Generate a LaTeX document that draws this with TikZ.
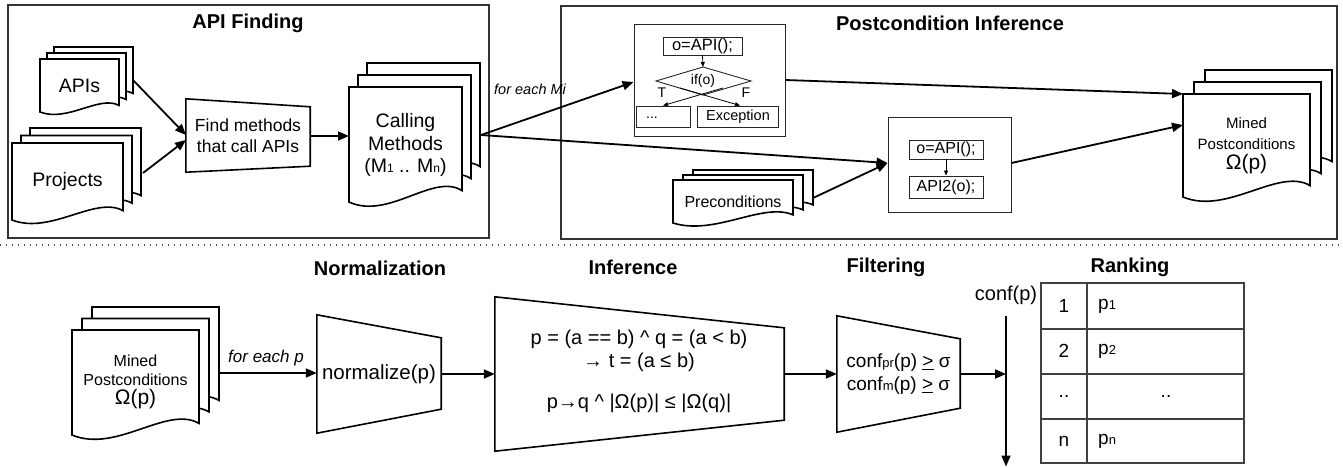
\documentclass[tikz,border=0pt]{standalone}
\usepackage{fontspec}
\setmainfont{Liberation Sans}
\usetikzlibrary{arrows.meta,calc}
\newcommand\docpath[4]{%
  \filldraw[shp] ({#1},{#2}) -- ({#1+#3},{#2}) -- ({#1+#3},{#2+#4-0.05*#3-0.05*#4})
    .. controls ({#1+0.75*#3},{#2+#4-0.13*#3-0.13*#4}) and ({#1+0.35*#3},{#2+#4+0.08*#3+0.08*#4}) .. ({#1},{#2+#4}) -- cycle;}
\newcommand\docstack[6]{%
  \foreach \k in {2,1,0}{\docpath{#1+\k*#5}{#2-\k*#6}{#3}{#4}}}
\newcommand\fsz[1]{\fontsize{#1}{#1}\selectfont}
\begin{document}
\begin{tikzpicture}[x=1pt,y=-1pt,
  shp/.style={draw=black,line width=1.6pt,fill=white},
  shpo/.style={draw=black,line width=1.6pt},
  frame/.style={draw=black!80,line width=1.2pt},
  cbox/.style={draw=black!85,line width=0.9pt},
  arr/.style={-{Triangle[length=11pt,width=9pt]},line width=1.8pt},
  sarr/.style={-{Triangle[length=5pt,width=4pt]},line width=0.8pt},
  title/.style={inner sep=0pt,font=\bfseries\fontsize{20}{22}\selectfont},
  tl/.style={inner sep=0pt,font=\fontsize{#1}{#1}\selectfont,align=center},
  tl/.default=16,
  dotline/.style={draw=black!70,line width=1.4pt,dash pattern=on 1.4pt off 4.6pt}]
\useasboundingbox (0,0) rectangle (1343,467);
% ---------- top frames ----------
\draw[frame] (8,5) rectangle (489,238);
\draw[frame] (561,6) rectangle (1337,239);
\node[title] (t1) at (248,23) {API Finding};
\node[title] (t2) at (950,23) {Postcondition Inference};
% ---------- API finding ----------
\docstack{40}{59}{79}{53}{7}{6}
\node[tl=19.5] (apis) at (79.5,86) {APIs};
\docstack{12}{143}{111}{77}{9}{7.5}
\node[tl=19.5] (proj) at (67.5,181) {Projects};
\node[tl=17.5,minimum width=124,minimum height=73] (find) at (248,135.5) {Find methods\\[3pt]that call APIs};
\draw[shpo] (find.north west) -- ([yshift=-8pt]find.north east) -- ([yshift=6pt]find.south east) -- (find.south west) -- cycle;
\docstack{349}{87}{113}{115}{9}{12}
\node[tl=19.5] (calls) at (405.5,145) {Calling\\[3pt]Methods\\[3pt](M{\fsz{12}1} .. M{\fsz{12}n})};
\coordinate (apisE) at (133,80);
\coordinate (projE) at (143,173);
\coordinate (findIn1) at (186,135);
\coordinate (findIn2) at (186,140);
\coordinate (callsW) at (349,136);
\coordinate (callsE) at (481,135);
\draw[arr] (apisE) -- (findIn1);
\draw[arr] (projE) -- (findIn2);
\draw[arr] (find.east |- callsW) -- (callsW);
\node[inner sep=0pt,anchor=west,font=\itshape\fontsize{14.5}{16}\selectfont] (fem) at (494,89) {for each Mi};
% ---------- postcondition inference ----------
\node[cbox,minimum width=151,minimum height=112,inner sep=0pt] (code1) at (709.5,80) {};
\node[cbox,tl=16.5,minimum width=79,minimum height=18] (o1) at (702.5,46) {o=API();};
\node[tl=14] (if) at (703,81) {if(o)};
\draw[cbox] ($(if)+(-47,0)$) -- ($(if)+(0,-14)$) -- ($(if)+(48,0)$) -- ($(if)+(0,14)$) -- cycle;
\draw[sarr] (o1.south) -- ($(if)+(0,-14)$);
\node[cbox,minimum width=54,minimum height=21,inner sep=0pt] (dots) at (663,116.5) {};
\node[tl=14] (dotst) at (652,118) {...};
\node[cbox,tl=14.5,minimum width=81,minimum height=21] (exc) at (738,116.5) {Exception};
\draw[sarr] ($(if)+(20,7)$) -- (dots.north);
\draw[sarr] ($(if)+(-23,7)$) -- ([xshift=2pt]exc.north);
\node[tl=14] (tT) at (662,93) {T};
\node[tl=14] (tF) at (746,93) {F};
\node[cbox,minimum width=123,minimum height=95,inner sep=0pt] (code2) at (949.5,164.5) {};
\node[cbox,tl=16,minimum width=74,minimum height=19] (o2) at (946,149.5) {o=API();};
\node[cbox,tl=16,minimum width=74,minimum height=22] (api2) at (946,187) {API2(o);};
\draw[sarr] (o2.south) -- (api2.north);
\docstack{673}{180}{120}{43}{10}{5}
\node[tl=16] (pre) at (733,202) {Preconditions};
\docstack{1183}{94}{127}{103}{11}{12}
\node[tl=15] (mined1) at (1246.5,146) {Mined\\[6pt]Postconditions\\[4pt]{\fsz{21}Ω(p)}};
\coordinate (mined1a) at (1183,94);
\coordinate (mined1b) at (1183,125);
\coordinate (preE) at (813,198);
\draw[arr] (callsE) -- (code1.west |- 0,82);
\draw[arr] (callsE) -- (code2.west |- 0,163);
\draw[arr] (preE) -- (code2.west |- 0,163);
\draw[arr] (code1.east |- 0,80) -- (mined1a);
\draw[arr] (code2.east |- 0,163) -- (mined1b);
% ---------- separator ----------
\coordinate (sepL) at (0,245);
\coordinate (sepR) at (1343,245);
\draw[dotline] (sepL) -- (sepR);
% ---------- bottom ----------
\node[title] (t3) at (380,268) {Normalization};
\node[title] (t4) at (633,267) {Inference};
\node[title] (t5) at (886,267) {Filtering};
\node[title] (t6) at (1130,267) {Ranking};
\docstack{72}{330}{127}{105}{10}{11.5}
\node[tl=16] (mined2) at (135.5,382) {Mined\\[3pt]Postconditions\\[3pt]{\fsz{21}Ω(p)}};
\coordinate (mined2E) at (219,373);
\node[tl=20.5,minimum width=124,minimum height=118] (norm) at (379,374) {normalize(p)};
\draw[shpo] (norm.north west) -- ([yshift=-23pt]norm.north east) -- ([yshift=24pt]norm.south east) -- (norm.south west) -- cycle;
\node[inner sep=0pt,font=\itshape\fontsize{17}{19}\selectfont] (fep) at (266,358) {for each p};
\draw[arr] (mined2E) -- (norm.west |- mined2E);
\node[tl=20,minimum width=289,minimum height=154] (inf) at (639.5,374) {};
\draw[shpo] (inf.north west) -- ([yshift=-31pt]inf.north east) -- ([yshift=31pt]inf.south east) -- (inf.south west) -- cycle;
\node[tl=20] (inft1) at (639,351) {p = (a == b) \^{} q = (a < b)\\[3pt]→ t = (a ≤ b)};
\node[tl=20] (inft2) at (639,403) {p→q \^{} |Ω(p)| ≤ |Ω(q)|};
\draw[arr] (norm.east) -- (inf.west);
\node[tl=19,minimum width=123,minimum height=116] (filt) at (898.5,374) {conf{\fsz{13}pr}(p) \underline{>} σ\\[4pt]conf{\fsz{13}m}(p) \underline{>} σ};
\draw[shpo] (filt.north west) -- ([yshift=-23pt]filt.north east) -- ([yshift=24pt]filt.south east) -- (filt.south west) -- cycle;
\draw[arr] (inf.east) -- (filt.west);
\coordinate (axtop) at (1006,316);
\coordinate (axbot) at (1006,466.5);
\coordinate (axmid) at (1006,374);
\draw[arr] (axtop) -- (axbot);
\draw[arr] (filt.east) -- (axmid);
\node[tl=20] (conf) at (1006,295) {conf(p)};
% ranking table
\draw[draw=black!75,line width=1.2pt] (1041,283) rectangle (1244,463);
\foreach \yy in {329,374,419}{\draw[draw=black!75,line width=1.2pt] (1041,\yy) -- (1244,\yy);}
\draw[draw=black!75,line width=1.2pt] (1087,283) -- (1087,463);
\node[tl=19] (r1) at (1064,306) {1};
\node[tl=19,anchor=west] (q1) at (1098,306) {p{\fsz{13}1}};
\node[tl=19] (r2) at (1064,351) {2};
\node[tl=19,anchor=west] (q2) at (1098,351) {p{\fsz{13}2}};
\node[tl=19] (r3) at (1064,396) {..};
\node[tl=19] (q3) at (1166,396) {..};
\node[tl=19] (r4) at (1064,441) {n};
\node[tl=19,anchor=west] (q4) at (1098,441) {p{\fsz{13}n}};
\end{tikzpicture}
\end{document}
